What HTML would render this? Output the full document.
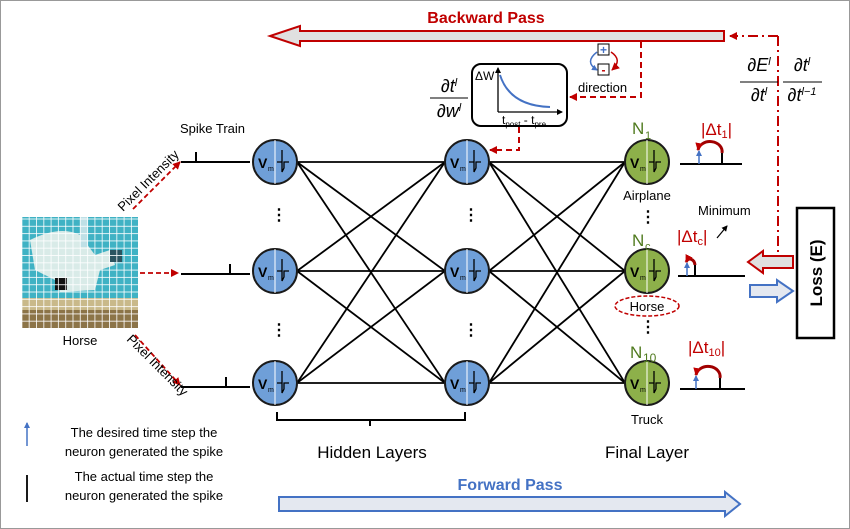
<!DOCTYPE html>
<html><head><meta charset="utf-8"><style>
html,body{margin:0;padding:0;background:#fff}
svg{display:block}
text{font-family:"Liberation Sans",sans-serif}
.m{font-family:"Liberation Serif",serif;font-style:italic}
</style></head><body>
<svg width="850" height="529" viewBox="0 0 850 529" xmlns="http://www.w3.org/2000/svg">
<defs>
<marker id="ar" markerWidth="8" markerHeight="8" refX="7" refY="4" orient="auto" markerUnits="userSpaceOnUse"><path d="M0,0 L8,4 L0,8z" fill="#c00000"/></marker>
<marker id="ab" markerWidth="6" markerHeight="6" refX="5" refY="3" orient="auto" markerUnits="userSpaceOnUse"><path d="M0,0 L6,3 L0,6z" fill="#4472c4"/></marker>
<marker id="ak" markerWidth="6" markerHeight="6" refX="5" refY="3" orient="auto" markerUnits="userSpaceOnUse"><path d="M0,0 L6,3 L0,6z" fill="#000"/></marker>
<pattern id="grid" width="7.3" height="7.3" patternUnits="userSpaceOnUse"><rect width="7.3" height="7.3" fill="none" stroke="#fff" stroke-width="0.8"/></pattern>
<g id="nb"><circle r="22" fill="#6f9fd8" stroke="#1a1a1a" stroke-width="2"/><line x1="0" y1="-22" x2="0" y2="22" stroke="#fff" stroke-width="1"/><text x="-17" y="6" font-size="14" font-weight="bold">V</text><text x="-7" y="9" font-size="7">m</text><path d="M2,0 H7 V-12 V10 L9,6 V0 H14" fill="none" stroke="#000" stroke-width="1.3"/></g>
<g id="ng"><circle r="22" fill="#8db04a" stroke="#1a1a1a" stroke-width="2"/><line x1="0" y1="-22" x2="0" y2="22" stroke="#fff" stroke-width="1"/><text x="-17" y="6" font-size="14" font-weight="bold">V</text><text x="-7" y="9" font-size="7">m</text><path d="M2,0 H7 V-12 V10 L9,6 V0 H14" fill="none" stroke="#000" stroke-width="1.3"/></g>
</defs>
<rect x="0.5" y="0.5" width="849" height="528" fill="#fff" stroke="#999"/>
<!-- image -->
<rect x="22" y="217" width="116" height="111" fill="#3fb2c4"/>
<path d="M30,240 Q60,225 80,235 L95,255 L110,250 L115,265 L100,270 L95,290 L60,292 L55,280 L35,270 Z" fill="#f4f4ee" opacity="0.85"/>
<rect x="110" y="250" width="12" height="12" fill="#2b5460"/>
<rect x="55" y="278" width="12" height="12" fill="#111"/>
<rect x="22" y="298" width="116" height="30" fill="#c9b98a"/>
<rect x="22" y="310" width="116" height="18" fill="#8c7448"/>
<rect x="80" y="217" width="8" height="30" fill="#bfe0e6"/>
<rect x="22" y="217" width="116" height="111" fill="url(#grid)"/>
<text x="80" y="345" font-size="13" text-anchor="middle">Horse</text>
<!-- pixel intensity arrows -->
<line x1="133" y1="209" x2="180" y2="162" stroke="#c00000" stroke-width="1.8" stroke-dasharray="5,3" marker-end="url(#ar)"/>
<line x1="140" y1="273" x2="178" y2="273" stroke="#c00000" stroke-width="1.8" stroke-dasharray="5,3" marker-end="url(#ar)"/>
<line x1="135" y1="335" x2="180" y2="385" stroke="#c00000" stroke-width="1.8" stroke-dasharray="5,3" marker-end="url(#ar)"/>
<text transform="translate(123,212) rotate(-45)" font-size="13">Pixel Intensity</text>
<text transform="translate(126,340) rotate(45)" font-size="13">Pixel Intensity</text>
<text x="180" y="133" font-size="13">Spike Train</text>
<!-- input spike lines -->
<g stroke="#000" stroke-width="2" fill="none">
<path d="M181,162 H250 M196,162 V152"/><path d="M181,274 H250 M230,274 V264"/><path d="M181,387 H250 M226,387 V377"/>
</g>
<!-- connections -->
<g stroke="#000" stroke-width="1.8">
<line x1="297" y1="162" x2="445" y2="162"/><line x1="297" y1="271" x2="445" y2="271"/><line x1="297" y1="383" x2="445" y2="383"/>
<line x1="297" y1="162" x2="445" y2="271"/><line x1="297" y1="162" x2="445" y2="383"/>
<line x1="297" y1="271" x2="445" y2="162"/><line x1="297" y1="271" x2="445" y2="383"/>
<line x1="297" y1="383" x2="445" y2="162"/><line x1="297" y1="383" x2="445" y2="271"/>
<line x1="489" y1="162" x2="625" y2="162"/><line x1="489" y1="271" x2="625" y2="271"/><line x1="489" y1="383" x2="625" y2="383"/>
<line x1="489" y1="162" x2="625" y2="271"/><line x1="489" y1="162" x2="625" y2="383"/>
<line x1="489" y1="271" x2="625" y2="162"/><line x1="489" y1="271" x2="625" y2="383"/>
<line x1="489" y1="383" x2="625" y2="162"/><line x1="489" y1="383" x2="625" y2="271"/>
</g>
<use href="#nb" x="275" y="162"/><use href="#nb" x="275" y="271"/><use href="#nb" x="275" y="383"/>
<use href="#nb" x="467" y="162"/><use href="#nb" x="467" y="271"/><use href="#nb" x="467" y="383"/>
<use href="#ng" x="647" y="162"/><use href="#ng" x="647" y="271"/><use href="#ng" x="647" y="383"/>
<g font-size="16" font-weight="bold" text-anchor="middle"><text x="279" y="220">⋮</text><text x="279" y="335">⋮</text><text x="471" y="220">⋮</text><text x="471" y="335">⋮</text><text x="648" y="222">⋮</text><text x="648" y="332">⋮</text></g>
<g fill="#4f7a1e" font-size="17"><text x="632" y="134">N</text><text x="645" y="139" font-size="11">1</text>
<text x="632" y="246">N</text><text x="645" y="250" font-size="11">c</text>
<text x="630" y="358">N</text><text x="643" y="362" font-size="12">10</text></g>
<text x="647" y="200" font-size="13" text-anchor="middle">Airplane</text>
<ellipse cx="647" cy="306" rx="32" ry="10" fill="none" stroke="#c00000" stroke-width="1.5" stroke-dasharray="4,2"/>
<text x="647" y="311" font-size="13" text-anchor="middle">Horse</text>
<text x="647" y="424" font-size="13" text-anchor="middle">Truck</text>
<!-- output spikes -->
<g stroke="#000" stroke-width="2" fill="none">
<path d="M680,164 H742 M722,164 V153"/><path d="M678,276 H745 M695,276 V265"/><path d="M680,389 H745 M720,389 V378"/>
</g>
<g stroke="#4472c4" stroke-width="1.5" marker-end="url(#ab)"><line x1="699" y1="164" x2="699" y2="151"/><line x1="687" y1="276" x2="687" y2="263"/><line x1="696" y1="389" x2="696" y2="376"/></g>
<g stroke="#a00000" stroke-width="3" fill="none" marker-end="url(#ar)"><path d="M722,153 A11,9 0 0 0 698,150"/><path d="M695,265 A5,7 0 0 0 686,262"/><path d="M720,378 A12,10 0 0 0 696,375"/></g>
<g fill="#c00000" font-size="17"><text x="701" y="135">|Δt<tspan font-size="11" dy="3">1</tspan><tspan dy="-3">|</tspan></text>
<text x="677" y="242">|Δt<tspan font-size="11" dy="3">c</tspan><tspan dy="-3">|</tspan></text>
<text x="688" y="353">|Δt<tspan font-size="11" dy="3">10</tspan><tspan dy="-3">|</tspan></text></g>
<text x="698" y="215" font-size="13">Minimum</text>
<line x1="717" y1="238" x2="727" y2="226" stroke="#000" stroke-width="1.2" marker-end="url(#ak)"/>
<!-- Loss -->
<rect x="797" y="208" width="37" height="130" fill="#fff" stroke="#000" stroke-width="2.5"/>
<text transform="translate(822,273) rotate(-90)" font-size="17" font-weight="bold" text-anchor="middle">Loss (E)</text>
<path d="M793,256 H763 V251 L748,262 L763,273 V268 H793 Z" fill="#e0e0e0" stroke="#c00000" stroke-width="2"/>
<path d="M750,285 H777 V280 L793,291 L777,302 V297 H750 Z" fill="#e4e8f0" stroke="#4472c4" stroke-width="2"/>
<!-- dash dot vertical -->
<line x1="778" y1="36" x2="778" y2="256" stroke="#c00000" stroke-width="2" stroke-dasharray="10,4,2,4"/>
<line x1="778" y1="36" x2="730" y2="36" stroke="#c00000" stroke-width="2" stroke-dasharray="10,4,2,4" marker-end="url(#ar)"/>
<!-- backward arrow -->
<path d="M724,31 H300 V26 L270,36 L300,46 V41 H724 Z" fill="#e0e0e0" stroke="#c00000" stroke-width="2"/>
<text x="486" y="23" font-size="16" font-weight="bold" fill="#c00000" text-anchor="middle">Backward Pass</text>
<!-- formula right -->
<g class="m" font-size="18" text-anchor="middle"><text x="759" y="71">∂E<tspan font-size="11" dy="-6">l</tspan></text><line x1="740" y1="82" x2="778" y2="82" stroke="#000"/><text x="759" y="101">∂t<tspan font-size="11" dy="-6">l</tspan></text>
<text x="802" y="71">∂t<tspan font-size="11" dy="-6">l</tspan></text><line x1="783" y1="82" x2="822" y2="82" stroke="#000"/><text x="802" y="101">∂t<tspan font-size="11" dy="-6">l−1</tspan></text></g>
<!-- dashed to stdp -->
<path d="M641,42 V97 H570" fill="none" stroke="#c00000" stroke-width="2" stroke-dasharray="6,4" marker-end="url(#ar)"/>
<path d="M519,127 V150 H490" fill="none" stroke="#c00000" stroke-width="2" stroke-dasharray="6,4" marker-end="url(#ar)"/>
<!-- direction -->
<rect x="598" y="44" width="11" height="11" fill="#fff" stroke="#000"/><text x="603.5" y="54" font-size="12" fill="#4472c4" text-anchor="middle" font-weight="bold">+</text>
<rect x="598" y="64" width="11" height="11" fill="#fff" stroke="#000"/><text x="603.5" y="74" font-size="12" fill="#c00000" text-anchor="middle" font-weight="bold">-</text>
<path d="M597,52 Q584,62 597,70" fill="none" stroke="#4472c4" stroke-width="1.5" marker-end="url(#ab)"/>
<path d="M611,52 Q623,60 612,70" fill="none" stroke="#c00000" stroke-width="1.5" marker-end="url(#ar)"/>
<text x="578" y="92" font-size="13">direction</text>
<!-- stdp box -->
<rect x="472" y="64" width="95" height="62" rx="9" fill="#fff" stroke="#000" stroke-width="2"/>
<line x1="498" y1="112" x2="562" y2="112" stroke="#000" stroke-width="1.3" marker-end="url(#ak)"/>
<line x1="498" y1="112" x2="498" y2="68" stroke="#000" stroke-width="1.3" marker-end="url(#ak)"/>
<path d="M500,75 Q510,106 550,107" fill="none" stroke="#4472c4" stroke-width="2"/>
<text x="475" y="80" font-size="12">ΔW</text>
<text x="502" y="124" font-size="12">t<tspan font-size="8" dy="3">post</tspan><tspan dy="-3"> - t</tspan><tspan font-size="8" dy="3">pre</tspan></text>
<g class="m" font-size="18" text-anchor="middle"><text x="449" y="92">∂t<tspan font-size="11" dy="-6">l</tspan></text><line x1="430" y1="98" x2="468" y2="98" stroke="#000"/><text x="449" y="117">∂w<tspan font-size="11" dy="-6">l</tspan></text></g>
<!-- brace -->
<path d="M277,412 V420 H370 V426 M370,420 H465 V412" fill="none" stroke="#000" stroke-width="2"/>
<text x="372" y="458" font-size="17" text-anchor="middle">Hidden Layers</text>
<text x="647" y="458" font-size="17" text-anchor="middle">Final Layer</text>
<!-- forward -->
<path d="M279,497 H725 V492 L740,504 L725,516 V511 H279 Z" fill="#e4e8f0" stroke="#4472c4" stroke-width="2"/>
<text x="510" y="490" font-size="16" font-weight="bold" fill="#4472c4" text-anchor="middle">Forward Pass</text>
<!-- legend -->
<line x1="27" y1="446" x2="27" y2="423" stroke="#4472c4" stroke-width="1.5" marker-end="url(#ab)"/>
<text x="144" y="437" font-size="13" text-anchor="middle">The desired time step the</text>
<text x="144" y="456" font-size="13" text-anchor="middle">neuron generated the spike</text>
<line x1="27" y1="475" x2="27" y2="502" stroke="#000" stroke-width="1.8"/>
<text x="144" y="481" font-size="13" text-anchor="middle">The actual time step the</text>
<text x="144" y="500" font-size="13" text-anchor="middle">neuron generated the spike</text>
</svg>
</body></html>
